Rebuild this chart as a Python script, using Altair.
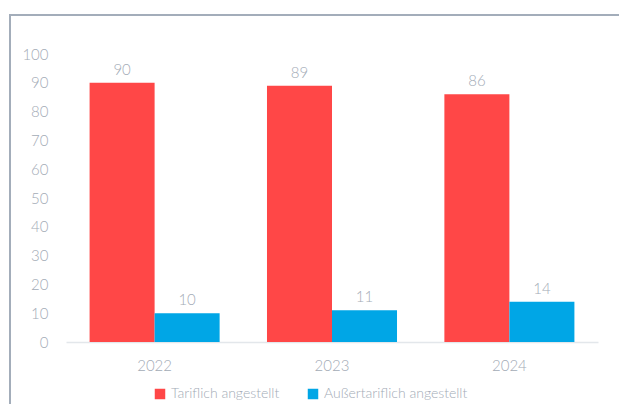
import altair as alt
import pandas as pd

years = ["2022", "2023", "2024"]
series = ["Tariflich angestellt", "Außertariflich angestellt"]
tariflich = [90, 89, 86]
aussertariflich = [10, 11, 14]
colors = ["#ff4747", "#00a6e6"]

rows = []
for i, y in enumerate(years):
    rows.append({"Jahr": y, "Gruppe": series[0], "Wert": tariflich[i]})
    rows.append({"Jahr": y, "Gruppe": series[1], "Wert": aussertariflich[i]})
df = pd.DataFrame(rows)

FONT = "Lato"
GRAY = "#a3abb6"

x = alt.X("Jahr:N", sort=years, title=None,
          scale=alt.Scale(paddingInner=0.267, paddingOuter=0.133),
          axis=alt.Axis(labelAngle=0, ticks=False, domainColor="#e3e7eb", domainWidth=1.5,
                        labelColor=GRAY, labelFontSize=15, labelFont=FONT,
                        labelFontWeight=300, labelPadding=16))
xo = alt.XOffset("Gruppe:N", sort=series, scale=alt.Scale(paddingInner=0, paddingOuter=0))
y = alt.Y("Wert:Q", title=None,
          scale=alt.Scale(domain=[0, 100]),
          axis=alt.Axis(values=list(range(0, 101, 10)), grid=False, domain=False, ticks=False,
                        labelColor=GRAY, labelFontSize=15, labelFont=FONT,
                        labelFontWeight=300, labelPadding=18))
color = alt.Color("Gruppe:N", sort=series, scale=alt.Scale(domain=series, range=colors),
                  legend=alt.Legend(title=None, orient="none", direction="horizontal",
                                    legendX=87, legendY=333, symbolType="square",
                                    symbolSize=110, symbolStrokeWidth=0, symbolOpacity=1,
                                    labelColor=GRAY, labelFontSize=14, labelFont=FONT,
                                    labelFontWeight=300, columnPadding=26))

base = alt.Chart(df).encode(x=x, xOffset=xo, y=y)
bars = base.mark_bar().encode(color=color)
labels = base.mark_text(dy=-13, font=FONT, fontSize=15, fontWeight=300, color=GRAY).encode(
    text=alt.Text("Wert:Q"))

frame_top = alt.Chart(df).mark_rule(color="#a3adba", strokeWidth=2).encode(
    x=alt.value(-56), x2=alt.value(570), y=alt.value(-39))
frame_left = alt.Chart(df).mark_rule(color="#a3adba", strokeWidth=2).encode(
    x=alt.value(-56), y=alt.value(-40), y2=alt.value(400))

chart = alt.layer(frame_top, frame_left, bars, labels).properties(
    width=532, height=288,
    autosize=alt.AutoSizeParams(type="none"),
    padding={"left": 58, "top": 46, "right": 21, "bottom": 62},
    background="white",
).configure_view(stroke=None, strokeWidth=0)

chart.save("out.html", embed_options={"renderer": "svg", "actions": False})
